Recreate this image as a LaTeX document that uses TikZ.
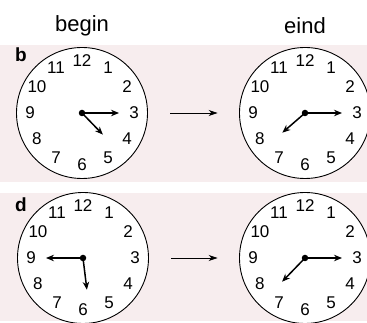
\documentclass[tikz,border=0pt]{standalone}
\usepackage{fontspec}
\setmainfont{Liberation Sans}
\usetikzlibrary{arrows.meta}
\definecolor{panelpink}{RGB}{247,237,238}

% clock: name, x, y, minute angle, hour angle, hour length
\newcommand{\drawclock}[6]{%
  \node[face] (#1) at (#2,#3) {};
  \foreach \h in {1,...,12}
    \path (#1.center) ++({90-30*\h}:52) node[num] {\h};
  \draw[hand] (#1.center) -- ++(#4:37);
  \draw[hand] (#1.center) -- ++(#5:#6);
  \node[pivot] (#1-c) at (#1.center) {};
}

\begin{document}
\begin{tikzpicture}[x=1pt, y=1pt,
  face/.style={circle, draw, line width=0.9pt, fill=white, minimum size=131pt, inner sep=0pt},
  num/.style={font=\fontsize{17}{17}\selectfont, inner sep=0pt},
  hand/.style={line width=1.5pt, -{Stealth[length=8pt, width=6.5pt]}},
  pivot/.style={circle, fill, inner sep=0pt, minimum size=6.5pt},
  arr/.style={line width=0.8pt, -{Stealth[length=9pt, width=6pt]}, shorten <=22.5pt, shorten >=21.5pt},
  tag/.style={font=\fontsize{19}{19}\selectfont\bfseries},
  head/.style={font=\fontsize{22}{22}\selectfont}
]
\useasboundingbox (0,0) rectangle (367,323);
\clip (0,0) rectangle (367,323);

% panels
\fill[panelpink] (0,141) rectangle (367,278);
\fill[panelpink] (0,2) rectangle (367,130);

\node[head] (begin) at (82,297) {begin};
\node[head] (eind) at (305,297) {eind};

\node[tag] (b) at (21,268) {b};
\node[tag] (d) at (21,118) {d};

\drawclock{bb}{82}{210}{0}{-46}{30}
\drawclock{eb}{305}{210}{0}{221}{30}
\drawclock{bd}{83}{65}{180}{-83}{32}
\drawclock{ed}{305}{65}{0}{226}{33}

\draw[arr] (bb) -- (eb);
\draw[arr] (bd) -- (ed);
\end{tikzpicture}
\end{document}
